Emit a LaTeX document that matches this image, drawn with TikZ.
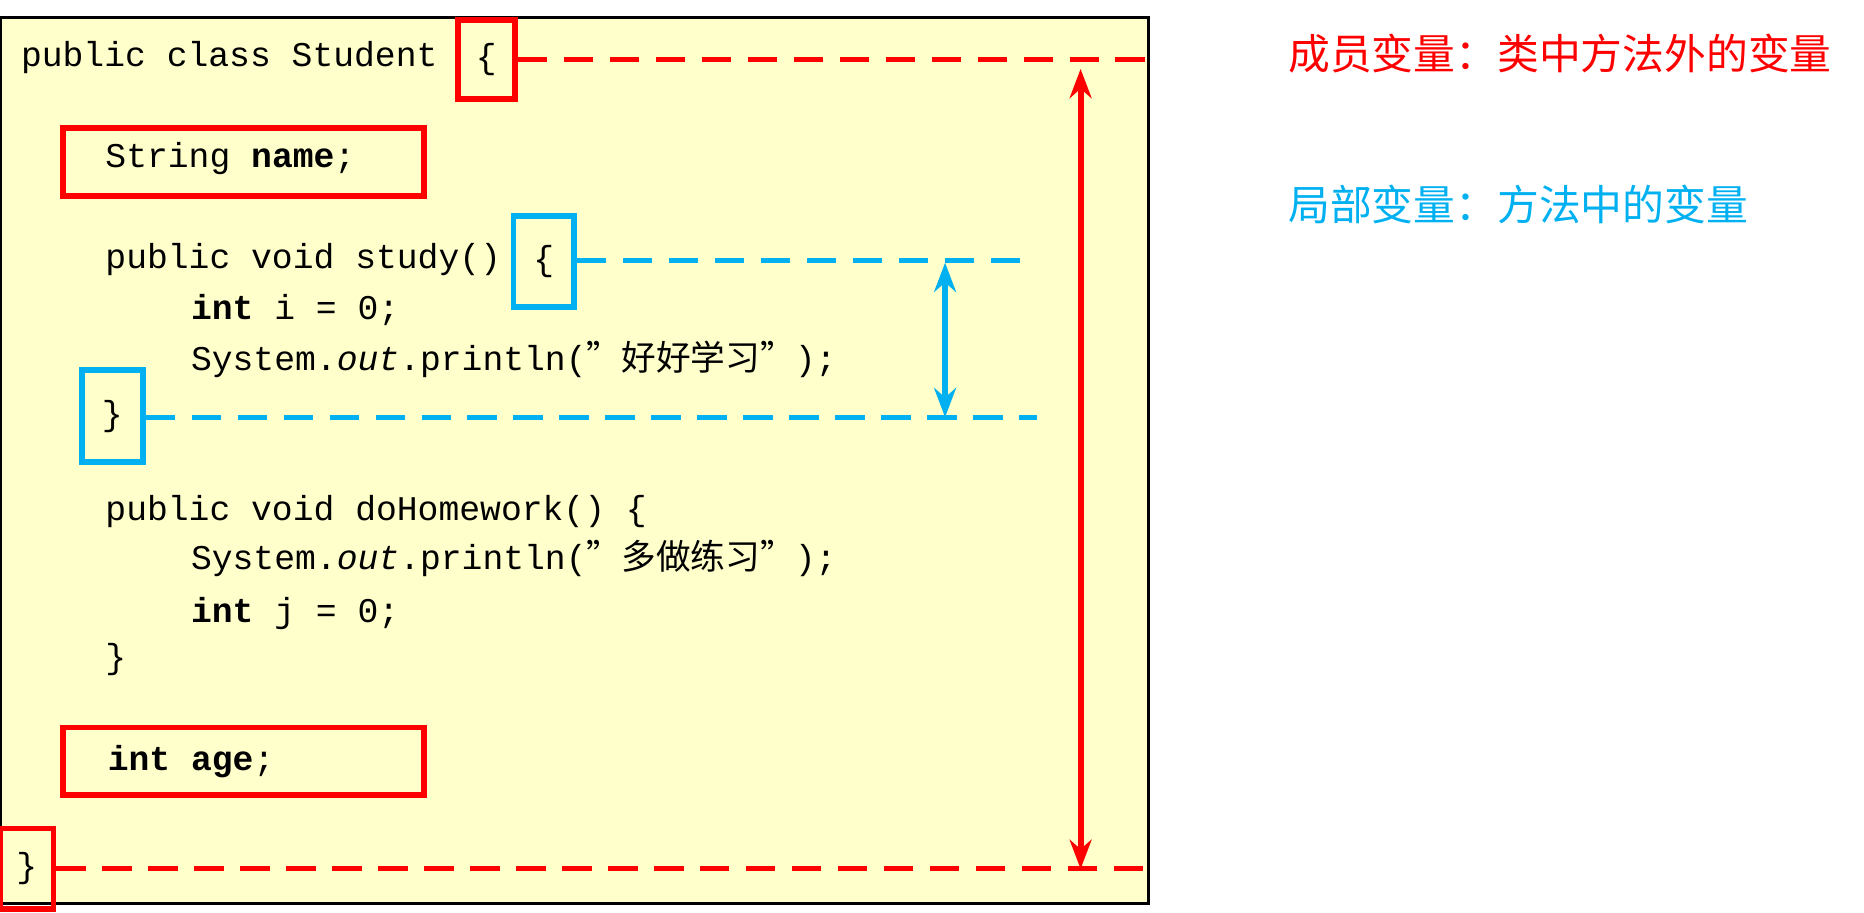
\documentclass[tikz,border=0pt]{standalone}
\usepackage{fontspec}
\setmonofont{Liberation Mono}
\newfontfamily\cjk{Noto Sans CJK SC}
\usetikzlibrary{arrows.meta}
\definecolor{codebg}{RGB}{255,255,204}
\definecolor{memred}{RGB}{255,0,0}
\definecolor{locblue}{RGB}{0,176,240}
\tikzset{code/.style={anchor=west, inner sep=0pt, font=\ttfamily\fontsize{8.3}{10}\selectfont},
  mark box/.style={draw, line width=1.4pt, minimum width=#1, inner sep=0pt},
  dline/.style={dashed, dash pattern=on 7pt off 4pt, line width=1.2pt}}
\begin{document}
\begin{tikzpicture}[x=0.01cm, y=-0.01cm]
\useasboundingbox (0,0) rectangle (1568,768);

\fill[codebg, draw=black, thick] (0,15) rectangle (966,760);

\node[code] (l1) at (17,48) {public class Student};
\node[code] (l2) at (88,133) {String \textbf{name};};
\node[code] (l3) at (88,218) {public void study()};
\node[code] (l4) at (160,261) {\textbf{int} i = 0;};
\node[code] (l5) at (160,302) {System.\textit{out}.println({\cjk ”好好学习”});};
\node[code] (l7) at (88,430) {public void doHomework() \{};
\node[code] (l8) at (160,470) {System.\textit{out}.println({\cjk ”多做练习”});};
\node[code] (l9) at (160,516) {\textbf{int} j = 0;};
\node[code] (l10) at (88,555) {\}};
\node[code] (l11) at (90,641) {\textbf{int age};};

% braces of the class
\node[mark box=0.48cm, minimum height=0.66cm, draw=memred, font=\ttfamily\fontsize{8.3}{10}\selectfont] (cb1) at (409,50) {\{};
\node[mark box=0.45cm, minimum height=0.68cm, draw=memred, font=\ttfamily\fontsize{8.3}{10}\selectfont] (cb2) at (22.5,731) {\}};
% braces of the method
\node[mark box=0.51cm, minimum height=0.77cm, draw=locblue, font=\ttfamily\fontsize{8.3}{10}\selectfont] (mb1) at (457.5,220) {\{};
\node[mark box=0.51cm, minimum height=0.77cm, draw=locblue, font=\ttfamily\fontsize{8.3}{10}\selectfont] (mb2) at (94.5,350) {\}};

% member variables
\draw[memred, line width=1.4pt] (53,108) rectangle (357,165);
\draw[memred, line width=1.4pt] (53,612) rectangle (357,669);

\coordinate (r1) at (966,50);
\coordinate (r2) at (966,731);
\coordinate (b1) at (872,219);
\coordinate (b2) at (872,351);
\draw[memred, dline] (cb1.east |- r1) -- (r1);
\draw[memred, dline] (cb2.east |- r2) -- (r2);
\draw[locblue, dline] (mb1.east |- b1) -- (b1);
\draw[locblue, dline] (mb2.east |- b2) -- (b2);

\draw[memred, line width=1.4pt, {Stealth[length=7pt]}-{Stealth[length=7pt]}] (909,58) -- (909,731);
\draw[locblue, line width=1.4pt, {Stealth[length=7pt]}-{Stealth[length=7pt]}] (795,221) -- (795,351);

\node[anchor=west, inner sep=0pt, text=memred, font=\cjk\fontsize{10}{12}\selectfont] (t1) at (1083,45) {成员变量：类中方法外的变量};
\node[anchor=west, inner sep=0pt, text=locblue, font=\cjk\fontsize{10}{12}\selectfont] (t2) at (1083,172) {局部变量：方法中的变量};
\end{tikzpicture}
\end{document}
